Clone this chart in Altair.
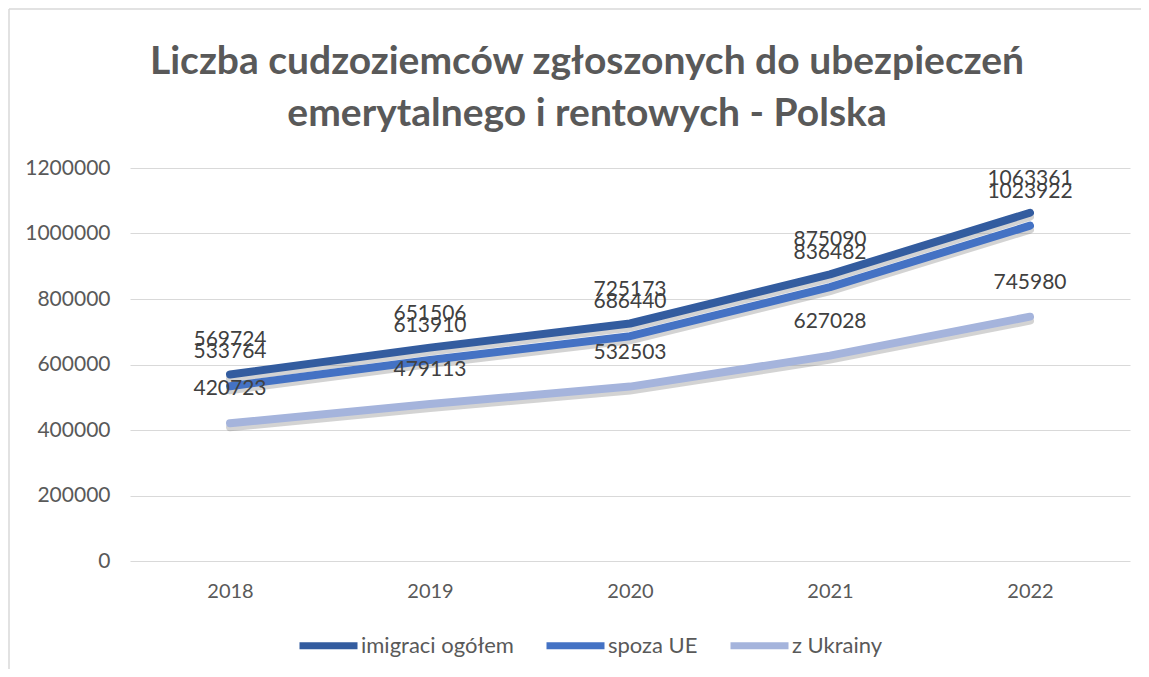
import altair as alt
import pandas as pd

years = ["2018", "2019", "2020", "2021", "2022"]
series = ["imigraci ogółem", "spoza UE", "z Ukrainy"]
ogolem = [569724, 651506, 725173, 875090, 1063361]
spoza_ue = [533764, 613910, 686440, 836482, 1023922]
z_ukrainy = [420723, 479113, 532503, 627028, 745980]
colors = ["#335C9F", "#4472C4", "#A5B4DC"]
y_ticks = [0, 200000, 400000, 600000, 800000, 1000000, 1200000]
title_lines = ["Liczba cudzoziemców zgłoszonych do ubezpieczeń",
               "emerytalnego i rentowych - Polska"]

rows = []
for s, vals in zip(series, [ogolem, spoza_ue, z_ukrainy]):
    for yr, v in zip(years, vals):
        rows.append({"rok": yr, "seria": s, "wartosc": v})
df = pd.DataFrame(rows)

FONT = "Lato"

x_enc = alt.X("rok:N", title=None, sort=years,
              axis=alt.Axis(labelAngle=0, ticks=False, domain=False, grid=False,
                            labelPadding=20, labelFontSize=20, labelColor="#595959",
                            labelFont=FONT))
y_enc = alt.Y("wartosc:Q", title=None,
              scale=alt.Scale(domain=[0, 1200000], nice=False, zero=True),
              axis=alt.Axis(values=y_ticks, format="d", ticks=False, domain=False,
                            gridColor="#D9D9D9", gridWidth=1, labelPadding=20,
                            labelFontSize=21, labelColor="#595959", labelFont=FONT))

base = alt.Chart(df)

shadow = base.mark_line(strokeWidth=8, color="#808080", opacity=0.35, yOffset=4,
                        strokeCap="round").encode(x=x_enc, y=y_enc, detail="seria:N")

lines = base.mark_line(strokeWidth=8, strokeCap="round", strokeJoin="round").encode(
    x=x_enc, y=y_enc,
    color=alt.Color("seria:N", sort=series,
                    scale=alt.Scale(domain=series, range=colors),
                    legend=alt.Legend(title=None, orient="none", direction="horizontal",
                                      legendX=166, legendY=445, padding=0,
                                      symbolType="stroke", symbolSize=3364,
                                      symbolStrokeWidth=7, labelFontSize=22,
                                      labelFont=FONT, labelColor="#595959",
                                      labelOffset=0, columnPadding=18)),
)

labels = base.mark_text(dy=-34, fontSize=21, color="#404040", font=FONT).encode(
    x=x_enc, y=y_enc, text=alt.Text("wartosc:Q", format="d"))

frame_df = pd.DataFrame({"k": [0]})
left_border = alt.Chart(frame_df).mark_rule(color="#D9D9D9", strokeWidth=1.5).encode(
    x=alt.value(-121), y=alt.value(-159), y2=alt.value(505))
top_border = alt.Chart(frame_df).mark_rule(color="#D9D9D9", strokeWidth=1.5).encode(
    x=alt.value(-121), x2=alt.value(1019), y=alt.value(-159))

chart = alt.layer(left_border, top_border, shadow, lines, labels).properties(
    width=1000, height=393,
    autosize=alt.AutoSizeParams(type="none"),
    padding={"left": 122, "top": 160, "right": 11, "bottom": 108},
    background="white",
    title=alt.TitleParams(text=title_lines, font=FONT, fontSize=39, fontWeight="bold",
                          color="#595959", anchor="middle", lineHeight=52,
                          frame="group", offset=-126, dx=-43),
).configure_view(stroke=None)

chart.save("out.html", embed_options={"renderer": "svg", "actions": False})
